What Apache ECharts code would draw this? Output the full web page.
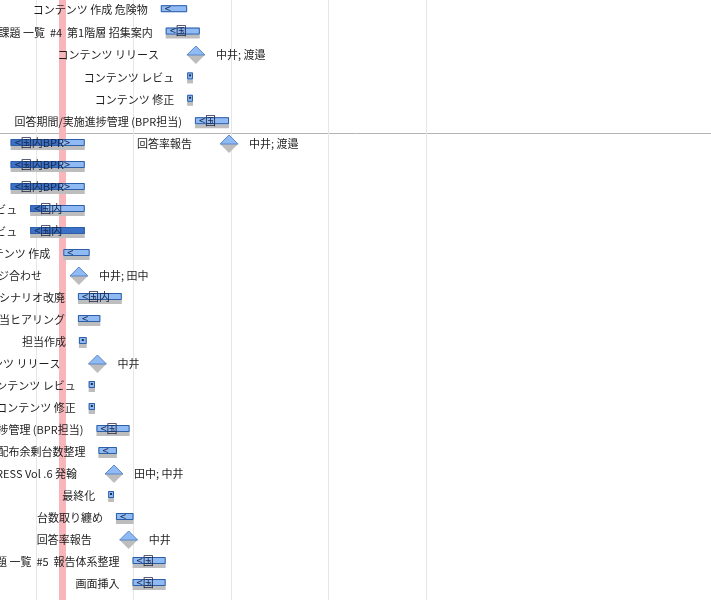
<!DOCTYPE html>
<html><head><meta charset="utf-8">
<script src="https://cdn.jsdelivr.net/npm/echarts@6/dist/echarts.min.js"></script>
<style>html,body{margin:0;padding:0;background:#fff}#c{width:711px;height:600px}</style>
</head><body><div id="c"></div>
<script>
// ---- top pane ----
const topRow   = [0, 1, 2, 3, 4, 5];
const topName  = ['コンテンツ 作成 危険物', '課題 一覧  #4  第1階層 招集案内', 'コンテンツ リリース', 'コンテンツ レビュ', 'コンテンツ 修正', '回答期間/実施進捗管理 (BPR担当)'];
const topStart = [22.8, 23.3, 26.4, 25.5, 25.5, 26.3];
const topEnd   = [25.5, 26.8, 26.4, 26.1, 26.1, 29.8];
const topDone  = [null, null, null, null, null, null];
const topKind  = ['task', 'task', 'milestone', 'task', 'task', 'task'];
const topTag   = ['<', '<国', '', '', '', '<国'];
const topWho   = ['', '', '中井; 渡邉', '', '', ''];
const topBase  = [false, true, true, true, true, true];

// ---- bottom pane ----
const bottomRow   = [0, 0, 1, 2, 3, 4, 5, 6, 7, 8, 9, 10, 11, 12, 13, 14, 15, 16, 17, 18, 19, 20];
const bottomName  = ['', '回答率報告', '', '', 'コンテンツ レビュ', 'コンテンツ レビュ', 'コンテンツ 作成', 'イメージ合わせ', 'シナリオ改廃', '担当ヒアリング', '担当作成', 'コンテンツ リリース', 'コンテンツ レビュ', 'コンテンツ 修正', '回答期間/実施進捗管理 (BPR担当)', '配布余剰台数整理', 'EXPRESS Vol .6 発翰', '最終化', '台数取り纏め', '回答率報告', '課題 一覧  #5  報告体系整理', '画面挿入'];
const bottomStart = [7.4, 29.8, 7.4, 7.4, 9.4, 9.4, 12.8, 14.4, 14.3, 14.3, 14.4, 16.3, 15.4, 15.4, 16.2, 16.4, 18.0, 17.4, 18.2, 19.5, 19.9, 19.9];
const bottomEnd   = [15.0, 29.8, 15.0, 15.0, 15.0, 15.0, 15.5, 14.4, 18.8, 16.6, 15.2, 16.3, 16.05, 16.05, 19.6, 18.3, 18.0, 18.0, 20.0, 19.5, 23.3, 23.3];
const bottomDone  = [12.5, null, 12.5, 12.5, 10.9, 15.0, null, null, null, null, null, null, null, null, null, null, null, null, null, null, null, null];
const bottomKind  = ['task', 'milestone', 'task', 'task', 'task', 'task', 'task', 'milestone', 'task', 'task', 'task', 'milestone', 'task', 'task', 'task', 'task', 'milestone', 'task', 'task', 'milestone', 'task', 'task'];
const bottomTag   = ['<国内BPR>', '', '<国内BPR>', '<国内BPR>', '<国内', '<国内', '<', '', '<国内', '<', '', '', '', '', '<国', '<', '', '', '<', '', '<国', '<国'];
const bottomWho   = ['', '中井; 渡邉', '', '', '', '', '', '中井; 田中', '', '', '', '中井', '', '', '', '', '田中; 中井', '', '', '中井', '', ''];
const bottomBase  = [true, true, true, true, true, true, true, true, true, true, true, true, true, true, true, true, true, true, true, true, true, true];

const todayValue = 12.72;
const weekTicks = [10, 20, 30, 40, 50];

// visible window of the time axis
const xMin = 6.3077, xMax = 79.23;

const FONT = '11px "Noto Sans CJK JP", "Noto Sans CJK SC", sans-serif';
const LIGHT = '#8fbaf3', BORDER = '#2f5ea8', DARK = '#3b71c6', GRAY = '#bdbdbd', TXT = '#1e1e1e';

function buildData(row, start, end, done) {
  return row.map((r, i) => [start[i], end[i], r, done[i] == null ? start[i] : done[i]]);
}

function makeRender(name, kind, tag, who, base) {
  return function (params, api) {
    const i = params.dataIndex;
    const r = api.value(2);
    const s = api.coord([api.value(0), r]);
    const e = api.coord([api.value(1), r]);
    const p = api.coord([api.value(3), r]);
    const c = s[1];
    const children = [];
    if (kind[i] === 'milestone') {
      const cx = s[0], h = 9;
      children.push({type: 'polygon', shape: {points: [[cx - h, c], [cx + h, c], [cx, c + h]]}, style: {fill: GRAY}});
      children.push({type: 'polygon', shape: {points: [[cx - h, c], [cx, c - h], [cx + h, c]]}, style: {fill: LIGHT, stroke: '#5a88cc', lineWidth: 1}});
      if (name[i]) children.push({type: 'text', style: {text: name[i], x: cx - 37, y: c, align: 'right', verticalAlign: 'middle', font: FONT, fill: TXT}});
      if (who[i]) children.push({type: 'text', style: {text: who[i], x: cx + 20, y: c, align: 'left', verticalAlign: 'middle', font: FONT, fill: TXT}});
    } else {
      const x0 = s[0], w = e[0] - s[0];
      if (base[i]) children.push({type: 'rect', shape: {x: x0, y: c + 2, width: w, height: 4}, style: {fill: GRAY}});
      children.push({type: 'rect', shape: {x: x0, y: c - 5, width: w, height: 7}, style: {fill: LIGHT}});
      if (p[0] > x0) children.push({type: 'rect', shape: {x: x0, y: c - 5, width: p[0] - x0, height: 7}, style: {fill: DARK}});
      children.push({type: 'rect', shape: {x: x0 + 0.5, y: c - 4.5, width: w - 1, height: 6}, style: {fill: 'none', stroke: BORDER, lineWidth: 1}});
      if (w < 10) children.push({type: 'rect', shape: {x: x0 + w / 2 - 1, y: c - 3, width: 2, height: 2}, style: {fill: '#1c2c50'}});
      if (tag[i]) children.push({type: 'text', style: {text: tag[i], x: x0 + 4, y: c - 1.5, align: 'left', verticalAlign: 'middle', font: FONT, fill: '#1a2544'}});
      if (name[i]) children.push({type: 'text', style: {text: name[i], x: x0 - 13, y: c, align: 'right', verticalAlign: 'middle', font: FONT, fill: TXT}});
    }
    return {type: 'group', children};
  };
}

const xAxisBase = {type: 'value', min: xMin, max: xMax,
  axisTick: {show: false}, axisLabel: {show: false}, splitLine: {show: false}};

const guideLines = (gi) => ({
  type: 'line', xAxisIndex: gi, yAxisIndex: gi, data: [], z: 1, silent: true,
  markLine: {silent: true, symbol: 'none', z: 1, label: {show: false}, animation: false,
    emphasis: {disabled: true},
    data: weekTicks.map(v => ({xAxis: v, lineStyle: {color: '#e6e6e6', width: 1, type: 'solid'}}))
      .concat([{xAxis: todayValue, lineStyle: {color: '#f8b6ba', width: 7, type: 'solid'}}])}
});

const chart = echarts.init(document.getElementById('c'), null, {renderer: 'canvas'});
chart.setOption({
  animation: false,
  backgroundColor: '#fff',
  grid: [
    {left: 0, right: 0, top: 0, height: 133},
    {left: 0, right: 0, top: 133, bottom: 0}
  ],
  xAxis: [
    Object.assign({gridIndex: 0, position: 'bottom', axisLine: {show: true, onZero: false, lineStyle: {color: '#b3b3b3', width: 1}}}, xAxisBase),
    Object.assign({gridIndex: 1, axisLine: {show: false, onZero: false}}, xAxisBase)
  ],
  yAxis: [
    {gridIndex: 0, type: 'value', inverse: true, show: false, min: -0.455, max: 5.4825, splitLine: {show: false}, axisLine: {onZero: false}},
    {gridIndex: 1, type: 'value', inverse: true, show: false, min: -0.5, max: 20.727, splitLine: {show: false}, axisLine: {onZero: false}}
  ],
  series: [
    guideLines(0),
    guideLines(1),
    {type: 'custom', xAxisIndex: 0, yAxisIndex: 0, z: 3, silent: true,
      encode: {x: [0, 1], y: 2},
      data: buildData(topRow, topStart, topEnd, topDone),
      renderItem: makeRender(topName, topKind, topTag, topWho, topBase)},
    {type: 'custom', xAxisIndex: 1, yAxisIndex: 1, z: 3, silent: true,
      encode: {x: [0, 1], y: 2},
      data: buildData(bottomRow, bottomStart, bottomEnd, bottomDone),
      renderItem: makeRender(bottomName, bottomKind, bottomTag, bottomWho, bottomBase)}
  ]
});
</script>
</body></html>
